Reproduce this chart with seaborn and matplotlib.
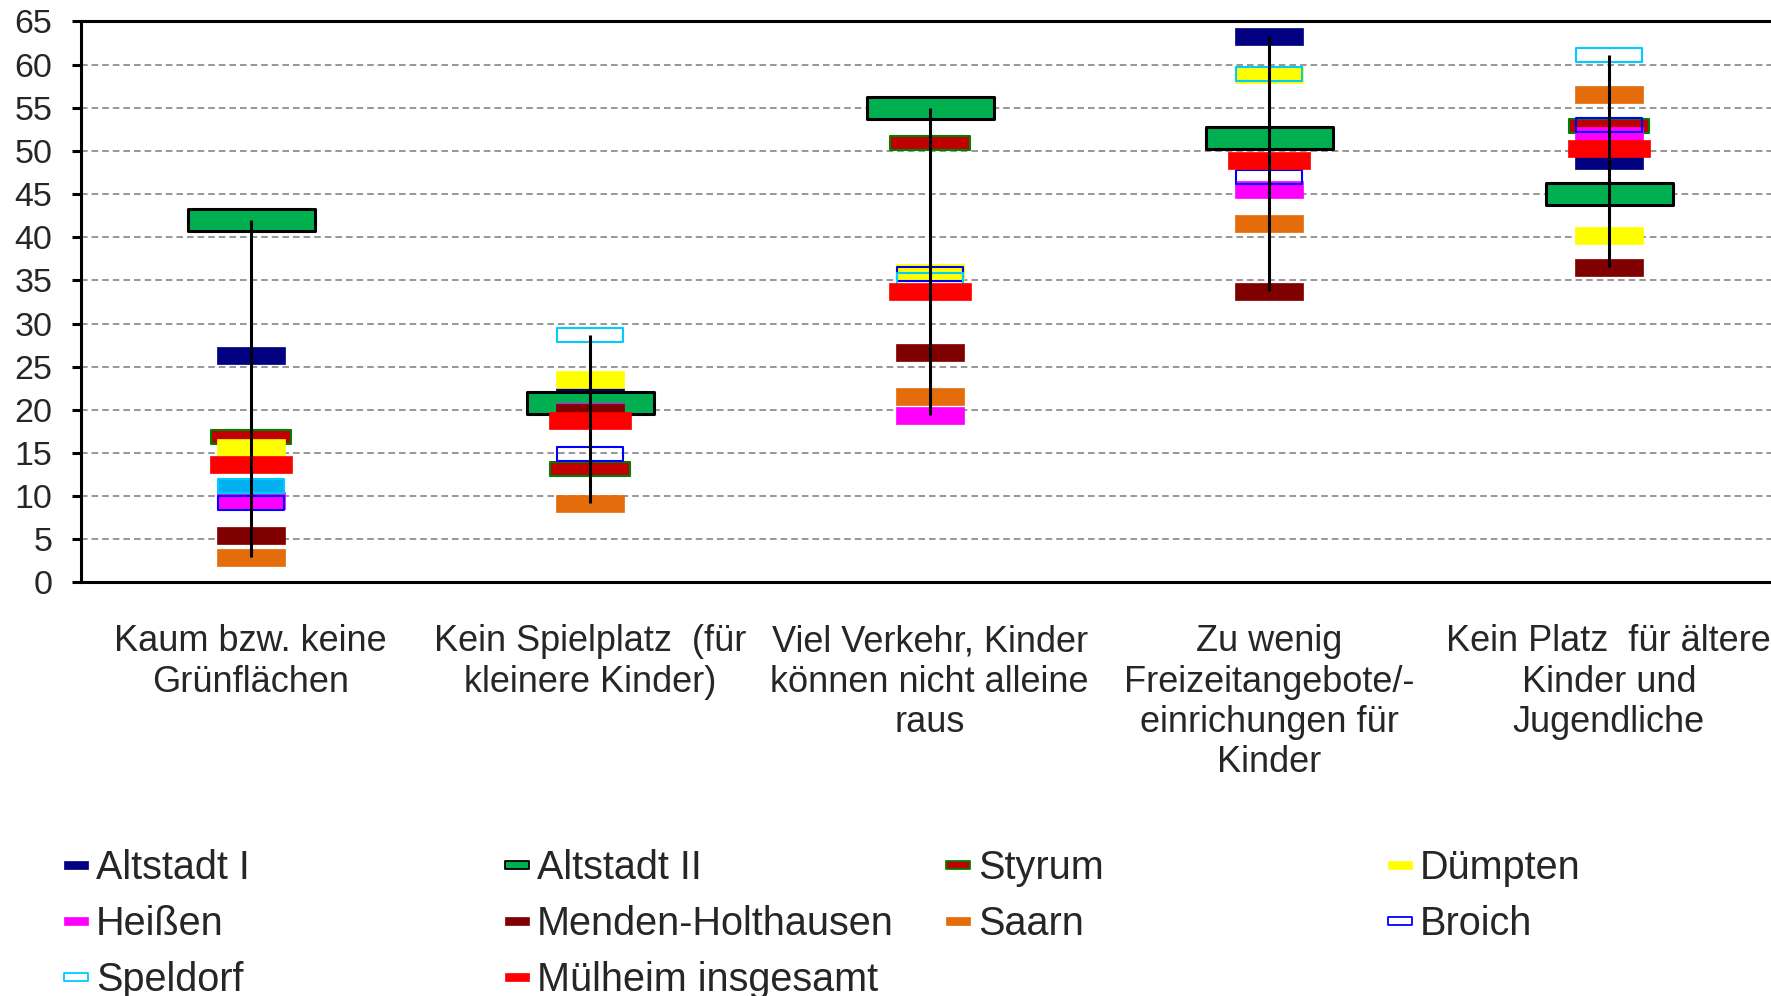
import numpy as np
import pandas as pd
import matplotlib
matplotlib.use('Agg')
import matplotlib.pyplot as plt
from matplotlib.lines import Line2D
from matplotlib.path import Path
import seaborn as sns

# categories on the x axis
categories = ['Kaum bzw. keine\nGrünflächen',
              'Kein Spielplatz  (für\nkleinere Kinder)',
              'Viel Verkehr, Kinder\nkönnen nicht alleine\nraus',
              'Zu wenig\nFreizeitangebote/-\neinrichungen für\nKinder',
              'Kein Platz  für ältere\nKinder und\nJugendliche']

# values per district (percent)
altstadt_i = [26.4, 21.6, np.nan, 63.3, 49.0]
altstadt_ii = [42.0, 20.8, 55.0, 51.5, 45.0]
styrum = [16.9, 13.1, 50.9, np.nan, 52.9]
duempten = [15.7, 23.6, 36.0, 58.9, 40.3]
heissen = [9.6, 19.9, 19.4, 45.6, 51.8]
menden = [5.5, 19.7, 26.7, 33.8, 36.6]
saarn = [3.0, 9.2, 21.6, 41.6, 56.6]
broich = [9.2, 14.9, 35.8, 47.0, 53.0]
speldorf = [11.2, 28.7, 35.0, 58.9, 61.1]
muelheim = [13.7, 18.8, 33.8, 49.0, 50.4]

series_names = ['Altstadt I', 'Altstadt II', 'Styrum', 'Dümpten', 'Heißen',
                'Menden-Holthausen', 'Saarn', 'Broich', 'Speldorf', 'Mülheim insgesamt']
series_values = [altstadt_i, altstadt_ii, styrum, duempten, heissen,
                 menden, saarn, broich, speldorf, muelheim]

# marker styles: fill, edge, edge width (pt), width (px), height (px)
styles = {
    'Altstadt I': ('#000080', '#000080', 0.5, 68, 17),
    'Altstadt II': ('#00B050', 'black', 2.2, 127, 22),
    'Styrum': ('#C00000', '#008000', 1.5, 80, 15),
    'Dümpten': ('#FFFF00', '#FFFF00', 0.5, 68, 17),
    'Heißen': ('#FF00FF', '#FF00FF', 0.5, 68, 17),
    'Menden-Holthausen': ('#800000', '#800000', 0.5, 68, 17),
    'Saarn': ('#E46C0A', '#E46C0A', 0.5, 68, 17),
    'Broich': ('none', '#0000FF', 1.5, 66, 14),
    'Speldorf': ('none', '#00CCFF', 1.5, 66, 14),
    'Mülheim insgesamt': ('#FF0000', '#FF0000', 0.5, 82, 17),
}
speldorf_fill = ['#00B0F0', 'none', 'none', 'none', 'none']

rows = []
for name, vals in zip(series_names, series_values):
    for i, v in enumerate(vals):
        rows.append({'pos': i, 'Gebiet': name, 'Wert': v})
df = pd.DataFrame(rows)

sns.set_style('white')
plt.rcParams['font.family'] = ['Liberation Sans', 'DejaVu Sans']

fig = plt.figure(figsize=(17.71, 9.96), dpi=100)
W, H = 1771, 996
ax = fig.add_axes([81 / W, 1 - 582.5 / H, 5 * 339.5 / W, (582.5 - 21.5) / H])


def rect_marker(w, h):
    r = h / w
    return Path([(-0.5, -0.5 * r), (0.5, -0.5 * r), (0.5, 0.5 * r),
                 (-0.5, 0.5 * r), (-0.5, -0.5 * r)], closed=True)


for k, name in enumerate(series_names):
    fill, edge, lw, w, h = styles[name]
    sub = df[df['Gebiet'] == name]
    sns.scatterplot(data=sub, x='pos', y='Wert', marker=rect_marker(w, h),
                    s=(w * 0.72) ** 2, color=edge, edgecolor=edge, linewidth=lw,
                    zorder=3 + k, legend=False, ax=ax)
    coll = ax.collections[-1]
    if name == 'Speldorf':
        coll.set_facecolor([speldorf_fill[i] for i in sub['pos']])
    else:
        coll.set_facecolor(fill)

# high-low line per category
rng = df.groupby('pos')['Wert'].agg(['min', 'max'])
ax.vlines(rng.index, rng['min'], rng['max'], color='black', linewidth=2.2, zorder=20)

ax.set_xlim(-0.5, 4.5)
ax.set_ylim(0, 65)
ax.set_yticks(range(0, 66, 5))
ax.set_xticks(np.arange(-0.5, 5, 1))
ax.set_xticklabels([])
ax.set_xticks(range(5), minor=True)
ax.set_xticklabels(categories, minor=True, fontsize=26, linespacing=1.2)
ax.tick_params(axis='x', which='major', direction='out', length=8, width=2.2, color='black')
ax.tick_params(axis='x', which='minor', length=0, pad=30)
ax.tick_params(axis='y', direction='out', length=6.5, width=2.2, color='black',
               labelsize=24.5, pad=14, left=True)
ax.set_xlabel('')
ax.set_ylabel('')
ax.yaxis.grid(True, color='#999999', linewidth=1.44, linestyle=(0, (3.3, 2)))
ax.set_axisbelow(True)
for side in ['left', 'bottom', 'top', 'right']:
    ax.spines[side].set_color('black')
    ax.spines[side].set_linewidth(2.2)

# legend in four columns
handles = []
for name in series_names:
    fill, edge, lw, w, h = styles[name]
    face = 'white' if fill == 'none' else fill
    handles.append(Line2D([], [], linestyle='none', marker=rect_marker(24, 7.5),
                          markersize=24 * 0.72, markerfacecolor=face,
                          markeredgecolor=edge, markeredgewidth=min(lw, 1.3),
                          label=name))

col_x = [64, 505, 946, 1388]
for j in range(4):
    fig.legend(handles=handles[j::4], loc='upper left',
               bbox_to_anchor=(col_x[j] / W, 1 - 848.5 / H), frameon=False,
               fontsize=28.5, handlelength=0.6, numpoints=1,
               handletextpad=0.2, labelspacing=0.46, borderpad=0,
               borderaxespad=0)

fig.savefig('out.png', dpi=100)
